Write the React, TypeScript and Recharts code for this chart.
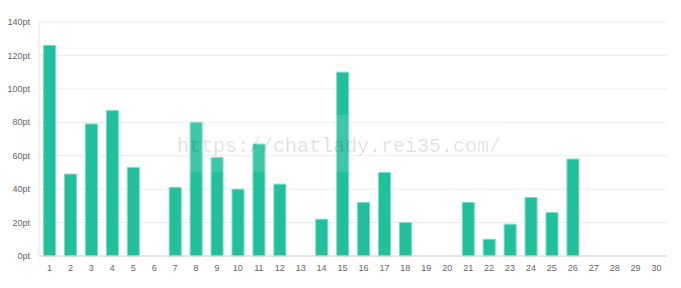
import React from 'react';
import { BarChart, Bar, XAxis, YAxis, CartesianGrid } from 'recharts';

const days = ['1', '2', '3', '4', '5', '6', '7', '8', '9', '10', '11', '12', '13', '14', '15', '16', '17', '18', '19', '20', '21', '22', '23', '24', '25', '26', '27', '28', '29', '30'];
const points = [126, 49, 79, 87, 53, 0, 41, 80, 59, 40, 67, 43, 0, 22, 110, 32, 50, 20, 0, 0, 32, 10, 19, 35, 26, 58, 0, 0, 0, 0];
const yTicks = [0, 20, 40, 60, 80, 100, 120, 140];
const watermark = 'https://chatlady.rei35.com/';

const data = days.map((day, i) => ({ day, pt: points[i] }));

const tickStyle = { fill: '#666', fontSize: 9, fontFamily: '"Liberation Sans", Arial, sans-serif' };

export default function App() {
  return (
    <div style={{ position: 'absolute', left: 0, top: 0, width: 681, height: 288, background: '#fff' }}>
      <BarChart width={681} height={288} data={data} margin={{ top: 22, right: 14, bottom: 0, left: 0 }} barCategoryGap="22%">
        <CartesianGrid vertical={false} stroke="#ebebeb" />
        <XAxis
          dataKey="day"
          height={32}
          tickLine={false}
          tickSize={0}
          tickMargin={9}
          axisLine={{ stroke: '#d9d9d9' }}
          tick={tickStyle}
          interval={0}
        />
        <YAxis
          width={39}
          domain={[0, 140]}
          ticks={yTicks}
          tickFormatter={(v) => `${v}pt`}
          tickLine={false}
          tickSize={0}
          tickMargin={9}
          axisLine={{ stroke: '#e6e6e6' }}
          tick={tickStyle}
        />
        <Bar dataKey="pt" fill="#21bf9b" stroke="#7adcc3" strokeWidth={1} isAnimationActive={false} />
      </BarChart>
      <svg width={681} height={288} style={{ position: 'absolute', left: 0, top: 0, pointerEvents: 'none' }}>
        <rect x={173} y={115} width={333} height={57} fill="#fff" fillOpacity={0.13} />
        <text
          x={339}
          y={152}
          textAnchor="middle"
          fontFamily='"Liberation Mono", "DejaVu Sans Mono", monospace'
          fontSize={20}
          fill="#000"
          fillOpacity={0.12}
        >
          {watermark}
        </text>
      </svg>
    </div>
  );
}
